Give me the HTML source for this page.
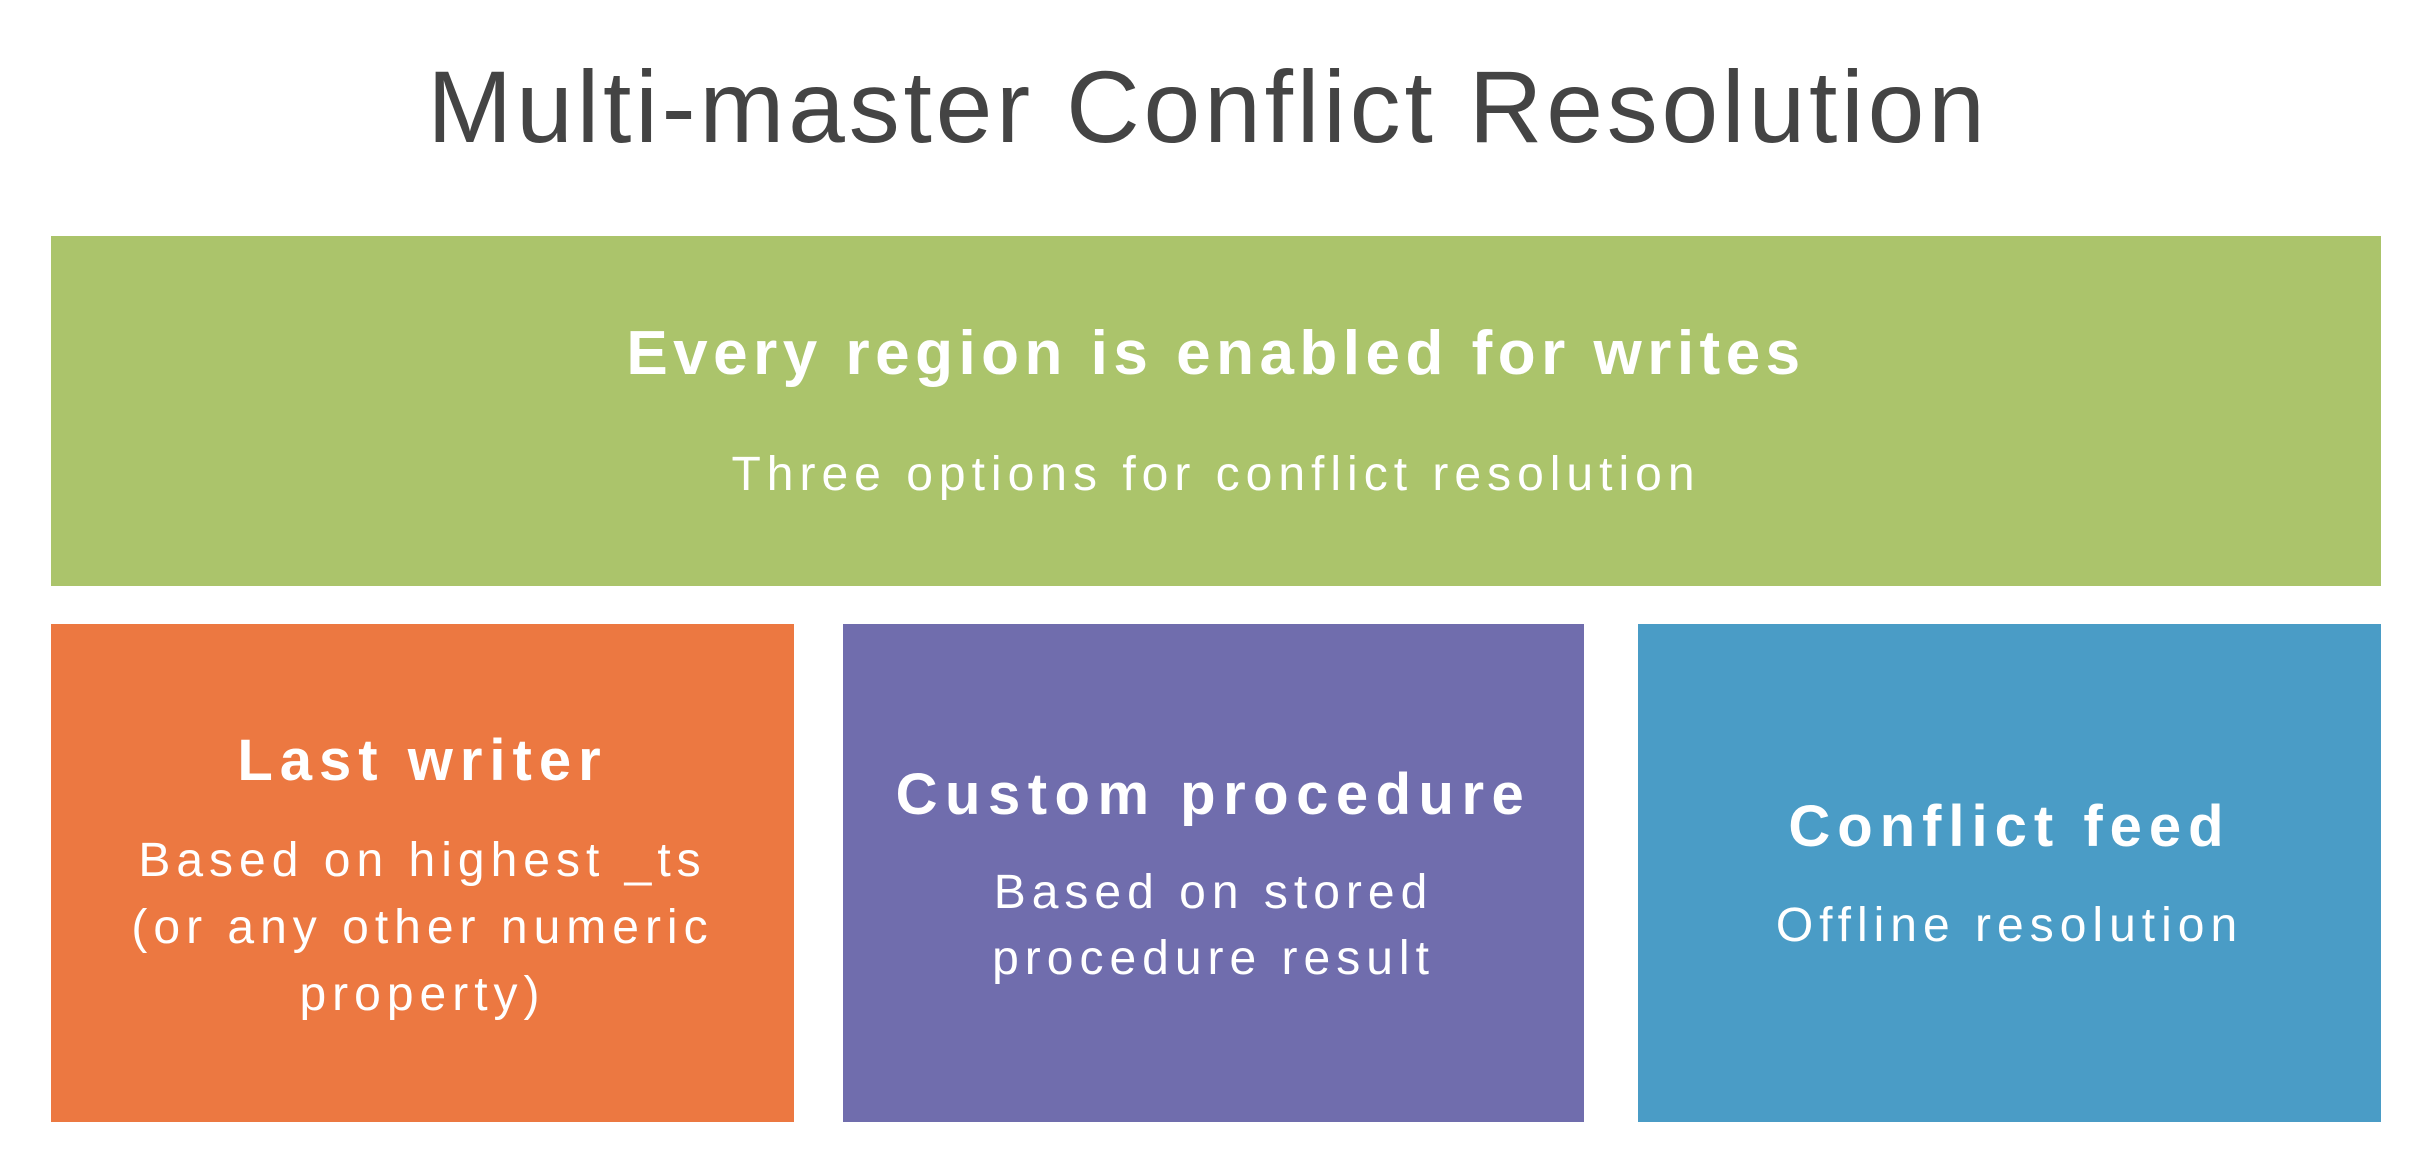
<!DOCTYPE html>
<html><head><meta charset="utf-8"><style>
body{margin:0;width:2416px;height:1170px;background:#fff;position:relative;overflow:hidden;font-family:"Liberation Sans",sans-serif}
.t{position:absolute;left:0;width:100%;text-align:center;white-space:nowrap;color:#fff}
.box{position:absolute}
</style></head><body>
<div class="t" style="top:52px;font-size:102px;line-height:110px;color:#444;letter-spacing:3.8px">Multi-master Conflict Resolution</div>
<div class="box" style="left:51px;top:236px;width:2330px;height:350px;background:#abc46b">
 <div class="t" style="top:82px;font-size:62px;font-weight:bold;line-height:72px;letter-spacing:5.5px">Every region is enabled for writes</div>
 <div class="t" style="top:212px;font-size:48px;line-height:54px;letter-spacing:6px">Three options for conflict resolution</div>
</div>
<div class="box" style="left:51px;top:624px;width:743px;height:498px;background:#ec7841">
 <div class="t" style="top:105px;font-size:58px;font-weight:bold;line-height:64px;letter-spacing:7px">Last writer</div>
 <div class="t" style="top:203px;font-size:48px;line-height:67px;white-space:normal;letter-spacing:6px">Based on highest _ts<br>(or any other numeric<br>property)</div>
</div>
<div class="box" style="left:843px;top:624px;width:741px;height:498px;background:#706dad">
 <div class="t" style="top:139px;font-size:58px;font-weight:bold;line-height:64px;letter-spacing:7.5px">Custom procedure</div>
 <div class="t" style="top:236px;font-size:48px;line-height:66px;white-space:normal;letter-spacing:6px">Based on stored<br>procedure result</div>
</div>
<div class="box" style="left:1638px;top:624px;width:743px;height:498px;background:#4a9cc6">
 <div class="t" style="top:171px;font-size:58px;font-weight:bold;line-height:64px;letter-spacing:7px">Conflict feed</div>
 <div class="t" style="top:272px;font-size:48px;line-height:60px;letter-spacing:6px">Offline resolution</div>
</div>
</body></html>
